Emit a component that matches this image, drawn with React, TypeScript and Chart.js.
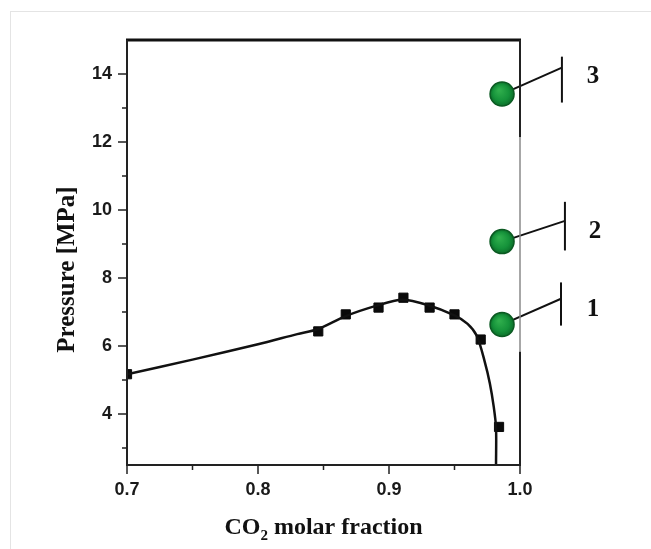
import React, { useEffect, useRef } from 'react';
import { Chart, registerables } from 'chart.js';

Chart.register(...registerables);

// Experimental points (squares)
const expFraction = [0.7, 0.846, 0.867, 0.892, 0.911, 0.931, 0.95, 0.97, 0.984];
const expPressure = [5.17, 6.43, 6.93, 7.13, 7.42, 7.13, 6.93, 6.19, 3.62];

// Fitted curve
const fitFraction = [0.7, 0.75, 0.8, 0.83, 0.846, 0.867, 0.89, 0.91, 0.93, 0.95, 0.96, 0.967, 0.973, 0.977, 0.98, 0.9817, 0.9817];
const fitPressure = [5.17, 5.6, 6.05, 6.35, 6.5, 6.88, 7.18, 7.36, 7.2, 6.9, 6.65, 6.3, 5.55, 4.9, 4.2, 3.6, 2.5];

// Green state points
const stateFraction = [0.9863, 0.9863, 0.9863];
const statePressure = [6.63, 9.07, 13.41];
const stateNames = ['1', '2', '3'];

// Leader annotations (data units)
const tagBarFraction = [1.0313, 1.0343, 1.032];
const tagBarTop = [7.87, 10.24, 14.51];
const tagBarBottom = [6.6, 8.81, 13.16];
const tagLineEnd = [7.39, 9.68, 14.19];
const tagLabelFraction = [1.0557, 1.0572, 1.0557];
const tagLabelPressure = [7.07, 9.38, 13.92];

// Axis ticks
const yMajorTicks = [4, 6, 8, 10, 12, 14];
const yMinorTicks = [3, 5, 7, 9, 11, 13];
const xMajorTicks = [0.7, 0.8, 0.9, 1.0];
const xMinorTicks = [0.75, 0.85, 0.95];
const yRange = [2.5, 15];
const xRange = [0.7, 1.0];
const rightBorderGap = [5.84, 12.14];

const SERIF = '"Liberation Serif", "Times New Roman", serif';
const SANS = '"Liberation Sans", Arial, sans-serif';

const decorPlugin = {
  id: 'decor',
  beforeDatasetsDraw(chart: any) {
    const { ctx } = chart;
    const xs = chart.scales.x;
    const ys = chart.scales.y;
    ctx.save();
    ctx.strokeStyle = '#111';
    ctx.lineWidth = 2;
    for (let i = 0; i < stateNames.length; i++) {
      const cx = xs.getPixelForValue(stateFraction[i]);
      const cy = ys.getPixelForValue(statePressure[i]);
      const ex = xs.getPixelForValue(tagBarFraction[i]);
      const ey = ys.getPixelForValue(tagLineEnd[i]);
      ctx.beginPath();
      ctx.moveTo(cx, cy);
      ctx.lineTo(ex, ey);
      ctx.stroke();
    }
    ctx.restore();
  },
  afterDatasetsDraw(chart: any) {
    const { ctx, chartArea } = chart;
    const xs = chart.scales.x;
    const ys = chart.scales.y;
    const { left, right, top, bottom } = chartArea;
    ctx.save();
    // frame lines
    ctx.strokeStyle = '#111';
    ctx.lineWidth = 3;
    ctx.beginPath();
    ctx.moveTo(left - 1, top);
    ctx.lineTo(right + 1, top);
    ctx.stroke();
    ctx.lineWidth = 2;
    ctx.strokeStyle = '#222';
    ctx.beginPath();
    ctx.moveTo(left, top);
    ctx.lineTo(left, bottom + 1);
    ctx.moveTo(left - 1, bottom);
    ctx.lineTo(right + 1, bottom);
    ctx.stroke();
    // right border
    const gTop = ys.getPixelForValue(rightBorderGap[1]);
    const gBot = ys.getPixelForValue(rightBorderGap[0]);
    ctx.beginPath();
    ctx.moveTo(right, top);
    ctx.lineTo(right, gTop);
    ctx.moveTo(right, gBot);
    ctx.lineTo(right, bottom);
    ctx.stroke();
    ctx.strokeStyle = '#8a8a8a';
    ctx.lineWidth = 1.5;
    ctx.beginPath();
    ctx.moveTo(right, gTop);
    ctx.lineTo(right, gBot);
    ctx.stroke();
    // ticks
    ctx.strokeStyle = '#222';
    ctx.lineWidth = 1.5;
    ctx.beginPath();
    yMajorTicks.forEach((v) => {
      const p = ys.getPixelForValue(v);
      ctx.moveTo(left - 9, p);
      ctx.lineTo(left, p);
    });
    yMinorTicks.forEach((v) => {
      const p = ys.getPixelForValue(v);
      ctx.moveTo(left - 5, p);
      ctx.lineTo(left, p);
    });
    xMajorTicks.forEach((v) => {
      const p = xs.getPixelForValue(v);
      ctx.moveTo(p, bottom);
      ctx.lineTo(p, bottom + 9);
    });
    xMinorTicks.forEach((v) => {
      const p = xs.getPixelForValue(v);
      ctx.moveTo(p, bottom);
      ctx.lineTo(p, bottom + 5);
    });
    ctx.stroke();
    // tag bars and labels
    ctx.strokeStyle = '#111';
    ctx.lineWidth = 2;
    ctx.fillStyle = '#111';
    ctx.font = `bold 25px ${SERIF}`;
    ctx.textAlign = 'center';
    ctx.textBaseline = 'middle';
    for (let i = 0; i < stateNames.length; i++) {
      const bx = xs.getPixelForValue(tagBarFraction[i]);
      ctx.beginPath();
      ctx.moveTo(bx, ys.getPixelForValue(tagBarTop[i]));
      ctx.lineTo(bx, ys.getPixelForValue(tagBarBottom[i]));
      ctx.stroke();
      ctx.fillText(stateNames[i], xs.getPixelForValue(tagLabelFraction[i]), ys.getPixelForValue(tagLabelPressure[i]));
    }
    // axis titles
    ctx.font = `bold 25px ${SERIF}`;
    ctx.save();
    ctx.translate(left - 59, (top + bottom) / 2 + 17);
    ctx.rotate(-Math.PI / 2);
    ctx.textAlign = 'center';
    ctx.textBaseline = 'middle';
    ctx.fillText('Pressure [MPa]', 0, 0);
    ctx.restore();

    const baseY = bottom + 69;
    const partA = 'CO';
    const partB = '2';
    const partC = ' molar fraction';
    ctx.font = `bold 24px ${SERIF}`;
    const wA = ctx.measureText(partA).width;
    const wC = ctx.measureText(partC).width;
    ctx.font = `bold 15px ${SERIF}`;
    const wB = ctx.measureText(partB).width;
    const total = wA + wB + wC;
    const x0 = (left + right) / 2 - total / 2;
    ctx.textAlign = 'left';
    ctx.textBaseline = 'alphabetic';
    ctx.font = `bold 24px ${SERIF}`;
    ctx.fillText(partA, x0, baseY);
    ctx.font = `bold 15px ${SERIF}`;
    ctx.fillText(partB, x0 + wA, baseY + 6);
    ctx.font = `bold 24px ${SERIF}`;
    ctx.fillText(partC, x0 + wA + wB, baseY);
    ctx.restore();
  },
};

const greenFill = (c: any) => {
  const flat = '#14963a';
  if (!c || c.type !== 'data' || !c.parsed || !c.chart || !c.chart.scales) return flat;
  const chart = c.chart;
  const xs = chart.scales.x;
  const ys = chart.scales.y;
  if (!xs || !ys) return flat;
  const px = xs.getPixelForValue(c.parsed.x);
  const py = ys.getPixelForValue(c.parsed.y);
  if (!Number.isFinite(px) || !Number.isFinite(py)) return flat;
  const g = chart.ctx.createRadialGradient(px - 3, py - 4, 1, px, py, 12);
  g.addColorStop(0, '#2fae4c');
  g.addColorStop(0.65, '#15923a');
  g.addColorStop(1, '#0c6f2a');
  return g;
};

export default function App() {
  const ref = useRef<HTMLCanvasElement | null>(null);
  useEffect(() => {
    if (!ref.current) return;
    const chart = new Chart(ref.current, {
      type: 'scatter',
      data: {
        datasets: [
          {
            label: 'fit',
            data: fitFraction.map((x, i) => ({ x, y: fitPressure[i] })),
            showLine: true,
            borderColor: '#111',
            borderWidth: 2.5,
            pointRadius: 0,
            tension: 0.3,
            fill: false,
          },
          {
            label: 'experimental',
            data: expFraction.map((x, i) => ({ x, y: expPressure[i] })),
            showLine: false,
            pointStyle: 'rect',
            pointRadius: 6.5,
            backgroundColor: '#0a0a0a',
            borderColor: '#0a0a0a',
            borderWidth: 1,
          },
          {
            label: 'states',
            data: stateFraction.map((x, i) => ({ x, y: statePressure[i] })),
            showLine: false,
            pointStyle: 'circle',
            pointRadius: 12,
            backgroundColor: greenFill,
            borderColor: '#0b5a22',
            borderWidth: 1.5,
          },
        ],
      },
      options: {
        animation: false,
        responsive: false,
        layout: { padding: { left: 0, top: 40, right: 131, bottom: 0 } },
        plugins: { legend: { display: false }, tooltip: { enabled: false } },
        scales: {
          x: {
            type: 'linear',
            min: xRange[0],
            max: xRange[1],
            grid: { display: false, drawTicks: false },
            border: { display: false },
            afterBuildTicks: (s: any) => {
              s.ticks = xMajorTicks.map((v) => ({ value: v }));
            },
            afterFit: (s: any) => {
              s.height = 84;
            },
            ticks: {
              padding: 14,
              color: '#1a1a1a',
              font: { family: SANS, size: 18, weight: 'bold' },
              callback: (v: any) => Number(v).toFixed(1),
              maxRotation: 0,
            },
          },
          y: {
            type: 'linear',
            min: yRange[0],
            max: yRange[1],
            grid: { display: false, drawTicks: false },
            border: { display: false },
            afterBuildTicks: (s: any) => {
              s.ticks = yMajorTicks.map((v) => ({ value: v }));
            },
            afterFit: (s: any) => {
              s.width = 127;
            },
            ticks: {
              padding: 15,
              color: '#1a1a1a',
              font: { family: SANS, size: 18, weight: 'bold' },
              callback: (v: any) => String(v),
            },
          },
        },
      },
      plugins: [decorPlugin],
    });
    return () => chart.destroy();
  }, []);

  return (
    <div style={{ position: 'fixed', left: 0, top: 0, width: 651, height: 549, overflow: 'hidden', background: '#fff' }}>
      <div
        style={{
          position: 'absolute',
          left: 10,
          top: 11,
          width: 700,
          height: 600,
          border: '1px solid #e4e4e4',
          boxSizing: 'border-box',
        }}
      />
      <canvas ref={ref} width={651} height={549} style={{ position: 'absolute', left: 0, top: 0 }} />
    </div>
  );
}
